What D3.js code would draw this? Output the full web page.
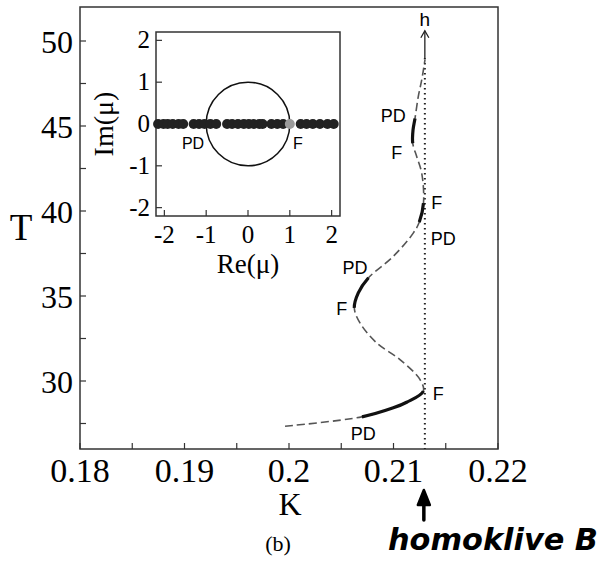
<!DOCTYPE html>
<html>
<head>
<meta charset="utf-8">
<script src="https://cdn.jsdelivr.net/npm/d3@7"></script>
<style>
  html, body { margin: 0; padding: 0; background: #fff; }
  svg { display: block; }
</style>
</head>
<body>
<svg id="chart" width="605" height="571"></svg>
<script>
/* Bifurcation branch T(K) with Floquet multipliers inset */

// main branch (K, T), bottom to top
var branchK = [0.19962, 0.20696, 0.20998, 0.21126, 0.21285, 0.21254, 0.21062, 0.20839,
               0.20679, 0.20625, 0.20663, 0.20759, 0.20998, 0.21189, 0.21247, 0.21287,
               0.21270, 0.21222, 0.21184, 0.21187, 0.21206, 0.21237, 0.21270, 0.21301];
var branchT = [27.34, 27.89, 28.42, 28.75, 29.40, 30.08, 31.26, 32.24,
               33.42, 34.30, 35.18, 36.06, 37.33, 38.70, 39.35, 40.47,
               42.23, 43.20, 43.99, 44.77, 45.46, 46.73, 47.71, 48.89];
// index spans drawn as solid (stable) pieces
var stableSpans = [[1, 4], [9, 11], [14, 15], [18, 20]];

// bifurcation labels on the branch
var bifText = ['PD', 'F', 'F', 'PD', 'PD', 'F', 'F', 'PD'];
var bifK    = [0.20711, 0.21429, 0.20504, 0.20632, 0.21477, 0.21413, 0.21031, 0.20998];
var bifT    = [26.92, 29.28, 34.28, 36.72, 38.39, 40.55, 43.49, 45.65];

var homoclinicK = 0.213;
var hTop = 50.6;

// main axes
var xTicks = [0.18, 0.19, 0.2, 0.21, 0.22];
var xMinor = [0.185, 0.195, 0.205, 0.215];
var yTicks = [30, 35, 40, 45, 50];
var yMinor = [27.5, 32.5, 37.5, 42.5, 47.5];

// inset: Floquet multipliers on the real axis
var muRe = [-2.15, -2.02, -1.92, -1.8, -1.66, -1.55,
            -1.3, -1.17, -1.04, -0.9, -0.76,
            -0.5, -0.38, -0.24, -0.1, 0.02, 0.14, 0.27, 0.35,
            0.56, 0.7, 0.84, 1.0,
            1.26, 1.4, 1.55, 1.72, 1.9, 2.05];
var muIm = muRe.map(function () { return 0; });
var grayIndex = 22;  // the multiplier at +1 (F)
var insetTicks = [-2, -1, 0, 1, 2];

(function () {
  'use strict';
  var svg = d3.select('#chart');
  var serif = '"Liberation Serif", "Times New Roman", serif';
  var sans = '"Liberation Sans", Arial, sans-serif';

  var x = d3.scaleLinear().domain([0.18, 0.22]).range([80, 498]);
  var y = d3.scaleLinear().domain([26, 52]).range([449, 7]);

  /* frame */
  svg.append('rect')
    .attr('x', x(0.18)).attr('y', y(52))
    .attr('width', x(0.22) - x(0.18)).attr('height', y(26) - y(52))
    .attr('fill', 'none').attr('stroke', '#333').attr('stroke-width', 1.5);

  /* ticks (inside) */
  var g = svg.append('g');
  xTicks.concat(xMinor).forEach(function (t) {
    g.append('line').attr('x1', x(t)).attr('x2', x(t))
      .attr('y1', y(26)).attr('y2', y(26) - 6)
      .attr('stroke', '#333').attr('stroke-width', 1.2);
  });
  yTicks.concat(yMinor).forEach(function (t) {
    g.append('line').attr('x1', x(0.18)).attr('x2', x(0.18) + 6)
      .attr('y1', y(t)).attr('y2', y(t))
      .attr('stroke', '#333').attr('stroke-width', 1.2);
  });
  xTicks.forEach(function (t) {
    g.append('text').attr('x', x(t)).attr('y', y(26) + 33)
      .attr('text-anchor', 'middle')
      .style('font-family', serif).style('font-size', '34px')
      .text(d3.format('')(t));
  });
  yTicks.forEach(function (t) {
    g.append('text').attr('x', x(0.18) - 7).attr('y', y(t) + 12)
      .attr('text-anchor', 'end')
      .style('font-family', serif).style('font-size', '32px')
      .text(t);
  });
  svg.append('text').attr('x', 290).attr('y', 515).attr('text-anchor', 'middle')
    .style('font-family', serif).style('font-size', '32px').text('K');
  svg.append('text').attr('x', 21).attr('y', 240).attr('text-anchor', 'middle')
    .style('font-family', serif).style('font-size', '37px').text('T');
  svg.append('text').attr('x', 278).attr('y', 551).attr('text-anchor', 'middle')
    .style('font-family', serif).style('font-size', '22px').text('(b)');

  /* homoclinic line + h arrow */
  svg.append('line')
    .attr('x1', x(homoclinicK)).attr('x2', x(homoclinicK))
    .attr('y1', y(49)).attr('y2', y(26))
    .attr('stroke', '#222').attr('stroke-width', 2)
    .attr('stroke-dasharray', '1.6,3.4');
  svg.append('line')
    .attr('x1', x(homoclinicK)).attr('x2', x(homoclinicK))
    .attr('y1', y(49)).attr('y2', y(hTop))
    .attr('stroke', '#222').attr('stroke-width', 1.3);
  svg.append('path')
    .attr('d', 'M' + (x(homoclinicK) - 4) + ',' + (y(hTop) + 7) +
               'L' + x(homoclinicK) + ',' + y(hTop) +
               'L' + (x(homoclinicK) + 4) + ',' + (y(hTop) + 7))
    .attr('fill', 'none').attr('stroke', '#222').attr('stroke-width', 1.3);
  svg.append('text').attr('x', x(homoclinicK)).attr('y', y(hTop) - 5)
    .attr('text-anchor', 'middle')
    .style('font-family', sans).style('font-size', '19px').text('h');

  /* branch */
  var pts = branchK.map(function (k, i) { return [x(k), y(branchT[i])]; });
  var line = d3.line().curve(d3.curveCatmullRom.alpha(0.5));
  svg.append('path').attr('d', line(pts))
    .attr('fill', 'none').attr('stroke', '#555').attr('stroke-width', 1.6)
    .attr('stroke-dasharray', '8,4');
  stableSpans.forEach(function (s) {
    // use neighbours so the solid piece follows the same spline
    var seg = pts.slice(Math.max(0, s[0] - 1), Math.min(pts.length, s[1] + 2));
    var path = svg.append('path').attr('d', line(seg)).attr('fill', 'none')
      .attr('stroke', 'none');
    var node = path.node();
    var total = node.getTotalLength();
    function lenAt(p) {
      var best = 0, bd = 1e9;
      for (var l = 0; l <= total; l += 0.5) {
        var q = node.getPointAtLength(l);
        var d = (q.x - p[0]) * (q.x - p[0]) + (q.y - p[1]) * (q.y - p[1]);
        if (d < bd) { bd = d; best = l; }
      }
      return best;
    }
    var l0 = lenAt(pts[s[0]]), l1 = lenAt(pts[s[1]]);
    path.attr('stroke', '#111').attr('stroke-width', 3.2)
      .attr('stroke-dasharray', '0,' + l0 + ',' + (l1 - l0) + ',' + total);
  });

  bifText.forEach(function (t, i) {
    svg.append('text').attr('x', x(bifK[i])).attr('y', y(bifT[i]) + 7)
      .attr('text-anchor', 'middle')
      .style('font-family', sans).style('font-size', '18px').text(t);
  });

  /* handwritten note */
  var ax = x(homoclinicK) - 1;
  svg.append('path')
    .attr('d', 'M' + ax + ',520 L' + ax + ',500')
    .attr('stroke', '#000').attr('stroke-width', 3.5).attr('stroke-linecap', 'round');
  svg.append('path')
    .attr('d', 'M' + (ax - 6) + ',505 L' + ax + ',490 L' + (ax + 6) + ',505 Z')
    .attr('fill', '#000').attr('stroke', '#000').attr('stroke-width', 2.5)
    .attr('stroke-linejoin', 'round');
  svg.append('text').attr('x', 388).attr('y', 550)
    .style('font-family', '"DejaVu Sans", sans-serif').style('font-size', '31px')
    .style('font-weight', 'bold').style('font-style', 'italic')
    .attr('textLength', 210).attr('lengthAdjust', 'spacingAndGlyphs')
    .text('homoklive B');

  /* inset */
  var ix = d3.scaleLinear().domain([-2.2, 2.2]).range([156, 340]);
  var iy = d3.scaleLinear().domain([-2.2, 2.2]).range([216, 32]);
  var ig = svg.append('g');
  ig.append('rect').attr('x', 156).attr('y', 32).attr('width', 184).attr('height', 184)
    .attr('fill', '#fff').attr('stroke', '#333').attr('stroke-width', 1.5);
  insetTicks.forEach(function (t) {
    ig.append('line').attr('x1', ix(t)).attr('x2', ix(t))
      .attr('y1', iy(-2.2)).attr('y2', iy(-2.2) - 6)
      .attr('stroke', '#333').attr('stroke-width', 1.2);
    ig.append('line').attr('x1', ix(-2.2)).attr('x2', ix(-2.2) + 6)
      .attr('y1', iy(t)).attr('y2', iy(t))
      .attr('stroke', '#333').attr('stroke-width', 1.2);
    ig.append('text').attr('x', ix(t)).attr('y', iy(-2.2) + 27)
      .attr('text-anchor', 'middle')
      .style('font-family', serif).style('font-size', '25px').text(t);
    ig.append('text').attr('x', ix(-2.2) - 6).attr('y', iy(t) + 8)
      .attr('text-anchor', 'end')
      .style('font-family', serif).style('font-size', '25px').text(t);
  });
  ig.append('text').attr('transform', 'translate(113,124) rotate(-90)')
    .attr('text-anchor', 'middle')
    .style('font-family', serif).style('font-size', '28px').text('Im(\u03bc)');
  ig.append('text').attr('x', ix(0)).attr('y', 273).attr('text-anchor', 'middle')
    .style('font-family', serif).style('font-size', '27px').text('Re(\u03bc)');
  ig.append('circle').attr('cx', ix(0)).attr('cy', iy(0))
    .attr('r', ix(1) - ix(0))
    .attr('fill', 'none').attr('stroke', '#111').attr('stroke-width', 1.5);
  muRe.forEach(function (r, i) {
    ig.append('circle').attr('cx', ix(r)).attr('cy', iy(muIm[i])).attr('r', 5)
      .attr('fill', i === grayIndex ? '#9a9a9a' : '#222');
  });
  ig.append('text').attr('x', 193).attr('y', 149).attr('text-anchor', 'middle')
    .style('font-family', sans).style('font-size', '16px').text('PD');
  ig.append('text').attr('x', 298).attr('y', 149).attr('text-anchor', 'middle')
    .style('font-family', sans).style('font-size', '16px').text('F');
})();
</script>
</body>
</html>
